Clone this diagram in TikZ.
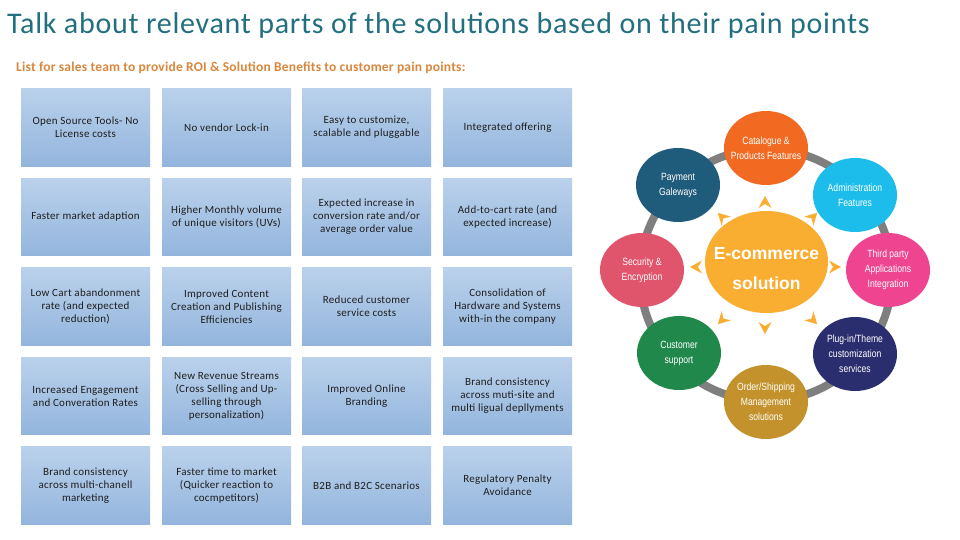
\documentclass[tikz,border=0pt]{standalone}
\usepackage{fontspec}
\setmainfont{Carlito}
\newfontfamily\circfont[FakeStretch=0.82]{Liberation Sans}
\newfontfamily\hubfont{Liberation Sans}
\usetikzlibrary{shapes.geometric}
\definecolor{titlec}{HTML}{22707F}
\definecolor{subc}{HTML}{D8873D}
\definecolor{boxtop}{HTML}{BAD1EB}
\definecolor{boxbot}{HTML}{93B5DD}
\definecolor{boxtext}{HTML}{1E1E1E}
\definecolor{ringc}{HTML}{7F7F7F}
\definecolor{hubc}{HTML}{F9AE32}
\definecolor{catc}{HTML}{F26A22}
\definecolor{payc}{HTML}{1F5B7A}
\definecolor{admc}{HTML}{1DBDEB}
\definecolor{secc}{HTML}{E0546C}
\definecolor{thpc}{HTML}{EF4490}
\definecolor{cusc}{HTML}{1F884A}
\definecolor{plgc}{HTML}{2B2E6E}
\definecolor{ordc}{HTML}{C3922C}
\tikzset{
 bx/.style={rectangle,top color=boxtop,bottom color=boxbot,minimum width=129pt,minimum height=77.5pt,inner sep=0pt,align=center,text=boxtext,font=\fontsize{11}{13}\selectfont\addfontfeature{LetterSpace=2.5}},
 fx/.style={ellipse,minimum width=84pt,minimum height=74pt,inner sep=0pt},
 fl/.style={text=white,align=center,inner sep=0pt,font=\circfont\fontsize{10.5}{15}\selectfont},
 hx/.style={ellipse,fill=hubc,minimum width=123pt,minimum height=102pt,inner sep=0pt},
 hl/.style={text=white,align=center,inner sep=0pt,yshift=-7pt,font=\hubfont\bfseries\fontsize{17.5}{30}\selectfont},
 tipx/.style={fill=hubc},
 ring/.style={draw=ringc,line width=8pt}}
\begin{document}
\begin{tikzpicture}[x=1pt,y=-1pt]
 \useasboundingbox[fill=white] (0,0) rectangle (960,540);
 % headings
 \node[anchor=base west,inner sep=0pt,text=titlec,font=\fontsize{30}{34}\selectfont\addfontfeature{LetterSpace=2.4}] (title) at (7,34)
  {Talk about relevant parts of the solutions based on their pain points};
 \node[anchor=base west,inner sep=0pt,text=subc,font=\bfseries\fontsize{13.5}{15}\selectfont\addfontfeature{LetterSpace=1.6}] (sub) at (16,72)
  {List for sales team to provide ROI \& Solution Benefits to customer pain points:};
 % benefit grid
 \node[bx] (b11) at (85.5,127.5) {Open Source Tools- No\\License costs};
 \node[bx] (b12) at (226.5,127.5) {No vendor Lock-in};
 \node[bx] (b13) at (366.5,127.5) {Easy to customize,\\scalable and pluggable};
 \node[bx] (b14) at (507.5,127.5) {Integrated offering};
 \node[bx] (b21) at (85.5,217) {Faster market adaption};
 \node[bx] (b22) at (226.5,217) {Higher Monthly volume\\of unique visitors (UVs)};
 \node[bx] (b23) at (366.5,217) {Expected increase in\\conversion rate and/or\\average order value};
 \node[bx] (b24) at (507.5,217) {Add-to-cart rate (and\\expected increase)};
 \node[bx] (b31) at (85.5,306.5) {Low Cart abandonment\\rate (and expected\\reduction)};
 \node[bx] (b32) at (226.5,306.5) {Improved Content\\Creation and Publishing\\Efficiencies};
 \node[bx] (b33) at (366.5,306.5) {Reduced customer\\service costs};
 \node[bx] (b34) at (507.5,306.5) {Consolidation of\\Hardware and Systems\\with-in the company};
 \node[bx] (b41) at (85.5,396) {Increased Engagement\\and Converation Rates};
 \node[bx] (b42) at (226.5,396) {New Revenue Streams\\(Cross Selling and Up-\\selling through\\personalization)};
 \node[bx] (b43) at (366.5,396) {Improved Online\\Branding};
 \node[bx] (b44) at (507.5,396) {Brand consistency\\across muti-site and\\multi ligual depllyments};
 \node[bx] (b51) at (85.5,485.5) {Brand consistency\\across multi-chanell\\marketing};
 \node[bx] (b52) at (226.5,485.5) {Faster time to market\\(Quicker reaction to\\cocmpetitors)};
 \node[bx] (b53) at (366.5,485.5) {B2B and B2C Scenarios};
 \node[bx] (b54) at (507.5,485.5) {Regulatory Penalty\\Avoidance};
 % e-commerce wheel
 \draw[ring] (766,275) circle[radius=126];
 \node[fx,fill=catc,label={[fl]center:{Catalogue \&\\Products Features}}] (cat) at (766,148) {};
 \node[fx,fill=payc,label={[fl]center:{Payment\\Galeways}}] (pay) at (678,185) {};
 \node[fx,fill=admc,label={[fl]center:{Administration\\Features}}] (adm) at (855,195) {};
 \node[fx,fill=secc,label={[fl]center:{Security \&\\Encryption}}] (sec) at (642,270) {};
 \node[fx,fill=thpc,label={[fl]center:{Third party\\Applications\\Integration}}] (thp) at (888,270) {};
 \node[fx,fill=cusc,label={[fl]center:{Customer\\support}}] (cus) at (679,353) {};
 \node[fx,fill=plgc,label={[fl]center:{Plug-in/Theme\\customization\\services}}] (plg) at (855,354) {};
 \node[fx,fill=ordc,label={[fl]center:{Order/Shipping\\Management\\solutions}}] (ord) at (766,402) {};
 \node[hx,label={[hl]center:{E-commerce\\solution}}] (hub) at (766.5,262) {};
 % tips round the hub
 \fill[tipx,shift={(765,202)},rotate=90] (6,0)--(-6,6.5)--(-2,0)--(-6,-6.5)--cycle;
 \fill[tipx,shift={(722,217)},rotate=135] (6,0)--(-6,6.5)--(-2,0)--(-6,-6.5)--cycle;
 \fill[tipx,shift={(813,217)},rotate=45] (6,0)--(-6,6.5)--(-2,0)--(-6,-6.5)--cycle;
 \fill[tipx,shift={(696,267)},rotate=180] (6,0)--(-6,6.5)--(-2,0)--(-6,-6.5)--cycle;
 \fill[tipx,shift={(835,267)},rotate=0] (6,0)--(-6,6.5)--(-2,0)--(-6,-6.5)--cycle;
 \fill[tipx,shift={(722,320)},rotate=225] (6,0)--(-6,6.5)--(-2,0)--(-6,-6.5)--cycle;
 \fill[tipx,shift={(765,328)},rotate=270] (6,0)--(-6,6.5)--(-2,0)--(-6,-6.5)--cycle;
 \fill[tipx,shift={(813,320)},rotate=315] (6,0)--(-6,6.5)--(-2,0)--(-6,-6.5)--cycle;
\end{tikzpicture}
\end{document}
